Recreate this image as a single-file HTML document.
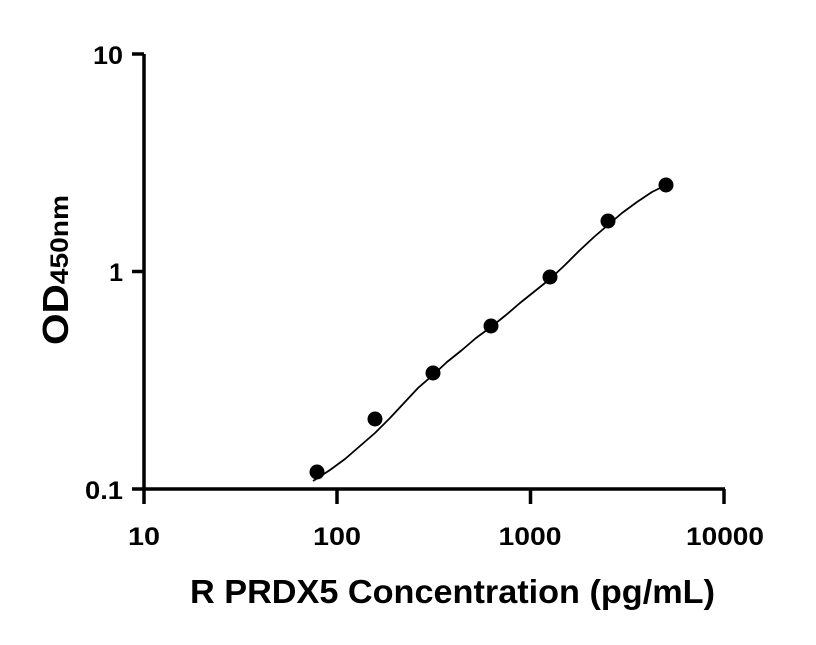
<!DOCTYPE html>
<html><head><style>body{margin:0;background:#fff}</style></head><body>
<svg width="816" height="640" xmlns="http://www.w3.org/2000/svg" font-family="Liberation Sans, sans-serif" font-weight="bold">
<rect width="816" height="640" fill="#fff"/>
<g stroke="#000" stroke-width="3.5" fill="none">
<path d="M144 54 V504"/>
<path d="M132 489 H725"/>
<path d="M132 54 H144 M132 271.5 H144"/>
<path d="M337 489 V504 M530.5 489 V504 M724 489 V504"/>
</g>
<g font-size="25" text-anchor="end">
<text x="123" y="64" textLength="30" lengthAdjust="spacingAndGlyphs">10</text>
<text x="123" y="281">1</text>
<text x="123" y="499" textLength="38" lengthAdjust="spacingAndGlyphs">0.1</text>
</g>
<g font-size="25" text-anchor="middle">
<text x="144" y="545" textLength="32" lengthAdjust="spacingAndGlyphs">10</text>
<text x="337" y="545" textLength="48" lengthAdjust="spacingAndGlyphs">100</text>
<text x="530" y="545" textLength="63" lengthAdjust="spacingAndGlyphs">1000</text>
<text x="725" y="545" textLength="78" lengthAdjust="spacingAndGlyphs">10000</text>
</g>
<text x="190" y="603" font-size="33" textLength="525" lengthAdjust="spacingAndGlyphs">R PRDX5 Concentration (pg/mL)</text>
<text transform="translate(68,345) rotate(-90)" font-size="36" textLength="150" lengthAdjust="spacingAndGlyphs">OD<tspan font-size="25">450nm</tspan></text>
<polyline points="313,481 330,470 345,459 360,446 375,433 390,418 404,403 418,388 433,375 447,362 462,350 476,338 491,327 506,315 520,303 535,291 550,279 565,265 579,251 594,237 608,225 622,213 637,202 652,192 666,185" stroke="#000" stroke-width="1.8" fill="none" stroke-linejoin="round"/>
<g fill="#000">
<circle cx="317" cy="472" r="7.5"/>
<circle cx="375" cy="419" r="7.5"/>
<circle cx="433" cy="373" r="7.5"/>
<circle cx="491" cy="326" r="7.5"/>
<circle cx="550" cy="277" r="7.5"/>
<circle cx="608" cy="221" r="7.5"/>
<circle cx="666" cy="185" r="7.5"/>
</g>
</svg>
</body></html>
